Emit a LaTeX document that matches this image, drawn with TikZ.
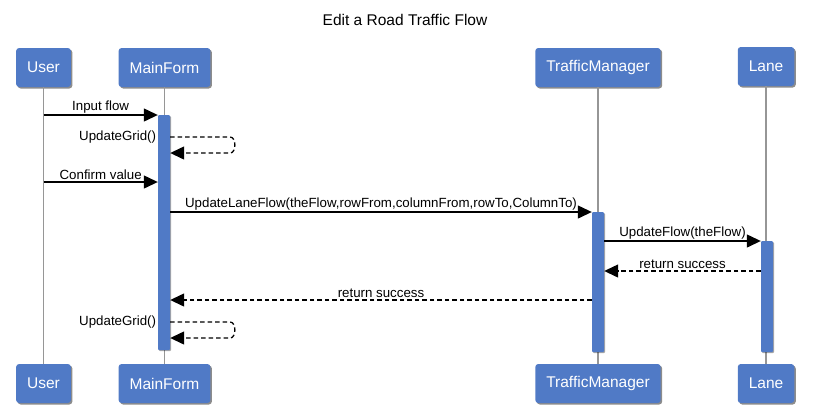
\documentclass[tikz,border=0pt]{standalone}
\usepackage{fontspec}
\setmainfont{Liberation Sans}
\usepackage{xcolor}
\usetikzlibrary{arrows.meta,positioning,shadows}
\definecolor{boxblue}{RGB}{80,122,198}
\definecolor{lifegray}{RGB}{150,150,150}

\tikzset{
  actor/.style={fill=boxblue, rounded corners=3pt, text=white, inner xsep=11pt,
    minimum height=39pt, font=\fontsize{15.5}{18}\selectfont,
    drop shadow={shadow xshift=1.5pt,shadow yshift=-1.5pt,fill=black,opacity=0.45}},
  activation/.style={fill=boxblue, rounded corners=1pt, minimum width=12pt, inner sep=0pt,
    anchor=north, drop shadow={shadow xshift=1pt,shadow yshift=-1pt,fill=black,opacity=0.35}},
  lifeline/.style={lifegray, line width=1.3pt},
  msg/.style={line width=1.3pt, -{Triangle[length=14pt,width=13pt]}},
  reply/.style={msg, dash pattern=on 4.5pt off 3pt},
  lbl/.style={font=\fontsize{13.3}{16}\selectfont, inner sep=1.5pt}
}

\begin{document}
\begin{tikzpicture}[x=1pt,y=-1pt]
  \useasboundingbox (0,0) rectangle (813,408);

  \node[font=\fontsize{15.5}{18}\selectfont] (title) at (405,20) {Edit a Road Traffic Flow};

  % Participants (top and bottom)
  \node[actor] (user) at (43.5,67.5) {User};
  \node[actor] (main) at (164.5,67.5) {MainForm};
  \node[actor] (traffic) at (598,67.5) {TrafficManager};
  \node[actor] (lane) at (766,66.5) {Lane};
  \node[actor] (userB) at (43.5,383.5) {User};
  \node[actor] (mainB) at (164.5,383.5) {MainForm};
  \node[actor] (trafficB) at (598,383.5) {TrafficManager};
  \node[actor] (laneB) at (766,383.5) {Lane};

  % Lifelines
  \foreach \p in {user,main,traffic,lane}
    \draw[lifeline] (\p.south) -- (\p B.north);

  % Activation bars
  \node[activation, minimum height=235pt] (mainAct) at (164,115) {};
  \node[activation, minimum height=140pt] (trafficAct) at (598,212) {};
  \node[activation, minimum height=111pt] (laneAct) at (767,241) {};

  % Message rows
  \coordinate (r2) at (0,137);
  \coordinate (r2b) at (0,153);
  \coordinate (r3) at (0,182);
  \coordinate (r6) at (0,271);
  \coordinate (r7) at (0,300);
  \coordinate (r8) at (0,322);
  \coordinate (r8b) at (0,338);

  % Messages
  \draw[msg] (user |- mainAct.north) -- node[lbl,above] {Input flow} (mainAct.north west);
  \draw[reply] (mainAct.east |- r2) -- ++(60,0) to[out=0,in=0] ++(0,16) -- (mainAct.east |- r2b);
  \node[lbl,left] (grid1) at (mainAct.west |- r2) {UpdateGrid()};
  \draw[msg] (user |- r3) -- node[lbl,above] {Confirm value} (mainAct.west |- r3);
  \draw[msg] (mainAct.east |- trafficAct.north) -- node[lbl,above]
    {UpdateLaneFlow(theFlow,rowFrom,columnFrom,rowTo,ColumnTo)} (trafficAct.north west);
  \draw[msg] (trafficAct.east |- laneAct.north) -- node[lbl,above] {UpdateFlow(theFlow)} (laneAct.north west);
  \draw[reply] (laneAct.west |- r6) -- node[lbl,above] {return success} (trafficAct.east |- r6);
  \draw[reply] (trafficAct.west |- r7) -- node[lbl,above] {return success} (mainAct.east |- r7);
  \draw[reply] (mainAct.east |- r8) -- ++(60,0) to[out=0,in=0] ++(0,16) -- (mainAct.east |- r8b);
  \node[lbl,left] (grid2) at (mainAct.west |- r8) {UpdateGrid()};
\end{tikzpicture}
\end{document}
